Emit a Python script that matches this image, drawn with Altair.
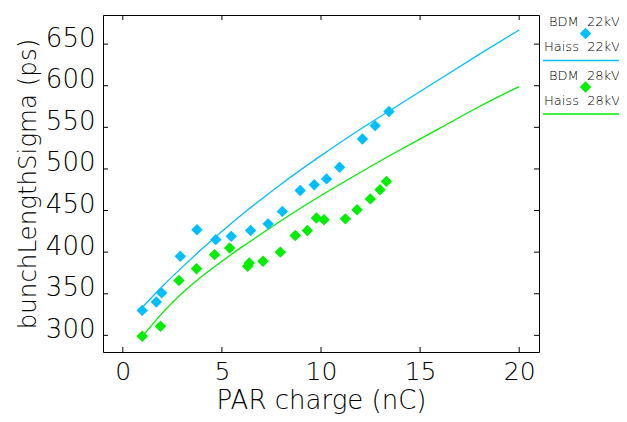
import altair as alt
import pandas as pd

# ---- data ----
bdm22_charge = [0.98, 1.69, 1.96, 2.9, 3.74, 4.69, 5.47, 6.45, 7.33, 8.05, 8.95, 9.66, 10.28, 10.94, 12.09, 12.73, 13.43]
bdm22_sigma = [330, 340, 351, 395, 427, 415, 419, 426, 434, 449, 474, 481, 488, 502, 536, 552, 569]

bdm28_charge = [0.98, 1.9, 2.83, 3.72, 4.63, 5.39, 6.3, 6.38, 7.07, 7.95, 8.7, 9.31, 9.77, 10.15, 11.23, 11.82, 12.49, 12.98, 13.3]
bdm28_sigma = [299, 311, 366, 380, 397, 405, 383, 387, 389, 400, 420, 426, 441, 439, 440, 451, 464, 475, 485]

haiss_charge = [1, 2, 3, 4, 5, 6, 8, 10, 12, 14, 16, 18, 20]
haiss22_sigma = [334, 359, 382, 404, 425, 445, 482, 516, 548, 578, 608, 638, 667]
haiss28_sigma = [299, 327, 351, 371, 389, 406, 438, 468, 496, 523, 549, 575, 599]

series_names = ["22kV", "28kV"]
x_ticks = [0, 5, 10, 15, 20]
y_ticks = [300, 350, 400, 450, 500, 550, 600, 650]

BLUE = "#00bfff"
GREEN = "#00ee00"
COLORS = [BLUE, GREEN]
W, H = 436, 337
FONT = "DejaVu Sans"
INK = "#000000"

xscale = alt.Scale(domain=[-1, 21], nice=False, zero=False)
yscale = alt.Scale(domain=[280, 685], nice=False, zero=False)
cscale = alt.Scale(domain=series_names, range=COLORS)

pts = pd.concat([
    pd.DataFrame({"charge": bdm22_charge, "sigma": bdm22_sigma, "series": series_names[0]}),
    pd.DataFrame({"charge": bdm28_charge, "sigma": bdm28_sigma, "series": series_names[1]}),
])
fits = pd.concat([
    pd.DataFrame({"charge": haiss_charge, "sigma": haiss22_sigma, "series": series_names[0]}),
    pd.DataFrame({"charge": haiss_charge, "sigma": haiss28_sigma, "series": series_names[1]}),
])

x_axis = alt.Axis(values=x_ticks, ticks=False, domain=False, grid=False,
                  labelFont=FONT, labelFontSize=25, labelFontWeight=200, labelColor=INK,
                  labelPadding=7, title="PAR charge (nC)", titleFont=FONT,
                  titleFontSize=26, titleFontWeight=200, titleColor=INK,
                  titleBaseline="alphabetic", titleY=56)
y_axis = alt.Axis(values=y_ticks, ticks=False, domain=False, grid=False,
                  labelFont=FONT, labelFontSize=26, labelFontWeight=200, labelColor=INK,
                  labelPadding=8, labelOffset=-6, title="bunchLengthSigma (ps)",
                  titleFont=FONT, titleFontSize=24.5, titleFontWeight=200, titleColor=INK,
                  titlePadding=5)


def X(field):
    return alt.X(field, scale=xscale, axis=x_axis)


def Y(field):
    return alt.Y(field, scale=yscale, axis=y_axis)


points = alt.Chart(pts).mark_point(shape="diamond", filled=True, size=130, opacity=1).encode(
    x=X("charge:Q"), y=Y("sigma:Q"),
    color=alt.Color("series:N", scale=cscale, legend=None),
)
lines = alt.Chart(fits).mark_line(strokeWidth=1.3, interpolate="natural").encode(
    x=X("charge:Q"), y=Y("sigma:Q"),
    color=alt.Color("series:N", scale=cscale, legend=None),
    detail="series:N",
)

xt = pd.DataFrame({"v": x_ticks})
yt = pd.DataFrame({"v": y_ticks})
TL = 5
tick_layers = [
    alt.Chart(xt).mark_rule(color=INK).encode(x=X("v:Q"), y=alt.value(H), y2=alt.value(H - TL)),
    alt.Chart(xt).mark_rule(color=INK).encode(x=X("v:Q"), y=alt.value(0), y2=alt.value(TL)),
    alt.Chart(yt).mark_rule(color=INK).encode(y=Y("v:Q"), x=alt.value(0), x2=alt.value(TL)),
    alt.Chart(yt).mark_rule(color=INK).encode(y=Y("v:Q"), x=alt.value(W), x2=alt.value(W - TL)),
]

# ---- custom legend on the right ----
legend_layers = []
for i, name in enumerate(series_names):
    dy = 53.5 * i
    lab = pd.DataFrame({"bdm": ["BDM\u00a0\u00a0" + name], "haiss": ["Haiss\u00a0\u00a0" + name]})
    legend_layers += [
        alt.Chart(lab).mark_text(align="left", baseline="middle", font=FONT, fontSize=13,
                                 fontWeight=200, color=INK).encode(
            text="bdm:N", x=alt.value(446), y=alt.value(7 + dy)),
        alt.Chart(lab).mark_point(shape="diamond", filled=True, size=130, opacity=1,
                                  color=COLORS[i]).encode(
            x=alt.value(482.5), y=alt.value(18.5 + dy)),
        alt.Chart(lab).mark_text(align="left", baseline="middle", font=FONT, fontSize=13,
                                 fontWeight=200, color=INK).encode(
            text="haiss:N", x=alt.value(441), y=alt.value(32 + dy)),
        alt.Chart(lab).mark_rule(color=COLORS[i], strokeWidth=1.3).encode(
            x=alt.value(440), x2=alt.value(516), y=alt.value(45.5 + dy)),
    ]

chart = alt.layer(lines, points, *tick_layers, *legend_layers).properties(
    width=W, height=H,
    autosize=alt.AutoSizeParams(type="none"),
    padding={"left": 95, "top": 7, "right": 80, "bottom": 62},
    background="white",
).configure_view(stroke=INK, strokeWidth=1)

chart.save("out.html", embed_options={"renderer": "svg", "actions": False})
